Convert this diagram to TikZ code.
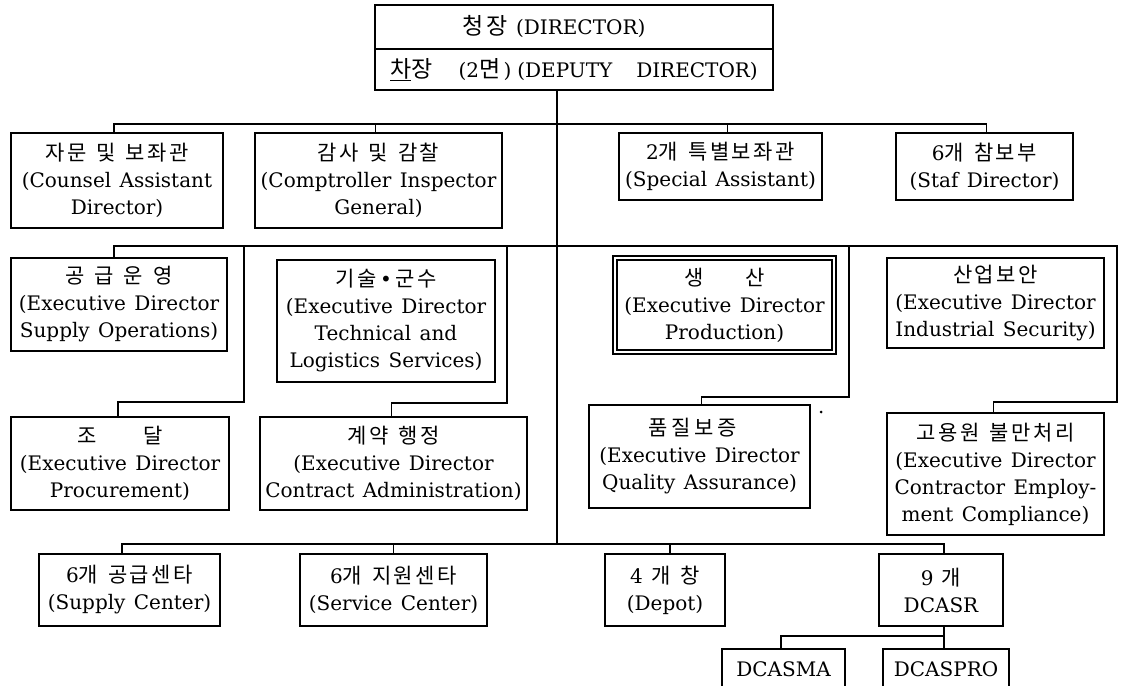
\documentclass[tikz,border=0pt]{standalone}
\usepackage{fontspec}
\setmainfont{DejaVu Serif}
\newfontfamily\kr[LetterSpace=12]{Noto Sans CJK KR}
\newcommand\K[1]{{\kr\fontsize{21}{27}\selectfont\spaceskip 10pt\relax #1}}
\newcommand\KL[1]{{\kr\fontsize{23}{27}\selectfont #1}}
\newcommand\bfnt{\fontsize{20}{27}\selectfont\spaceskip 8.4pt\relax}
\begin{document}
\begin{tikzpicture}[x=1pt,y=-1pt,line width=1.8pt,
  box/.style={draw,line width=1.8pt,inner sep=0pt,align=center,font=\bfnt},
  dbox/.style={box,double,double distance=2.6pt,line width=1.3pt}]
\useasboundingbox (0,0) rectangle (1123,685);
% top
\node[box,minimum width=398,minimum height=44] (dir) at (574,27) {\KL{청장} (DIRECTOR)\hspace*{40pt}};
\node[box,minimum width=398,minimum height=41] (dep) at (574,69.5) {\KL{\underline{차}장}\hspace{26pt}(2\KL{면}\,)\hspace{6pt}(DEPUTY\hspace{24pt}DIRECTOR)};
% row 1
\node[box,minimum width=212,minimum height=95] (counsel) at (117,180.5) {\K{자문 및 보좌관}\\(Counsel Assistant\\Director)};
\node[box,minimum width=247,minimum height=95] (comp) at (378.5,180.5) {\K{감사 및 감찰}\\(Comptroller Inspector\\General)};
\node[box,minimum width=203,minimum height=67] (special) at (720.5,166.5) {2\K{개 특별보좌관}\\(Special Assistant)};
\node[box,minimum width=177,minimum height=67] (staf) at (984.5,166.5) {6\K{개 참보부}\\(Staf Director)};
% row 2
\node[box,minimum width=216,minimum height=93] (supops) at (119,304.5) {\K{공 급 운 영}\\(Executive Director\\Supply Operations)};
\node[box,minimum width=218,minimum height=122] (tech) at (386,321) {\K{기술}\,•\,\K{군수}\\(Executive Director\\Technical and\\Logistics Services)};
\node[dbox,minimum width=219,minimum height=94] (prod) at (724.5,305) {\K{생\hspace{2em}산}\\(Executive Director\\Production)};
\node[box,minimum width=217,minimum height=90] (indsec) at (995.5,303) {\K{산업보안}\\(Executive Director\\Industrial Security)};
% row 3
\node[box,minimum width=218,minimum height=93] (proc) at (120,463.5) {\K{조\hspace{2.2em}달}\\(Executive Director\\Procurement)};
\node[box,minimum width=267,minimum height=93] (contr) at (393.5,463.5) {\K{계약 행정}\\(Executive Director\\Contract Administration)};
\node[box,minimum width=221,minimum height=103] (qa) at (699.5,456.5) {\K{품\,질\,보\,증}\hspace*{14pt}\\(Executive Director\\Quality Assurance)};
\node[box,minimum width=217,minimum height=122] (comply) at (995.5,474) {\K{고용원 불만처리}\\(Executive Director\\Contractor Employ-\\ment Compliance)};
\node[circle,fill,inner sep=0pt,minimum size=3pt] (dot) at (821,412) {};
% row 4
\node[box,minimum width=181,minimum height=72] (sc) at (129.5,590) {6\K{개 공급센타}\\(Supply Center)};
\node[box,minimum width=187,minimum height=72] (svc) at (393.5,590) {6\K{개 지원센타}\\(Service Center)};
\node[box,minimum width=120,minimum height=72] (depot) at (665,590) {4 \K{개 창}\\(Depot)};
\node[box,minimum width=124,minimum height=72] (dcasr) at (941,590) {9 \K{개}\\DCASR};
\node[box,anchor=north,minimum width=123,minimum height=40] (dcasma) at (783.5,648) {DCASMA};
\node[box,anchor=north,minimum width=126,minimum height=40] (dcaspro) at (946,648) {DCASPRO};
% buses
\coordinate (b1) at (557,124);
\coordinate (b2) at (557,246);
\coordinate (b4) at (557,544);
\coordinate (t1) at (244,402);
\coordinate (t2) at (507,403);
\coordinate (t3) at (849,397);
\coordinate (t4) at (1117,402);
\coordinate (b5) at (944,636);
% connectors
\draw (b4 |- dep.south) -- (b4);
\draw ([xshift=-3pt]counsel.north) |- (b1) -| ([xshift=2pt]staf.north);
\draw ([xshift=-3pt]comp.north) -- ([xshift=-3pt]comp.north |- b1);
\draw ([xshift=7pt]special.north) -- ([xshift=7pt]special.north |- b1);
\draw ([xshift=-5pt]supops.north) |- (b2) -| (t4) -| ([xshift=-2pt]comply.north);
\draw ([xshift=-2pt]proc.north) |- (t1) -- (t1 |- b2);
\draw ([xshift=-2pt]contr.north) |- (t2) -- (t2 |- b2);
\draw ([xshift=2pt]qa.north) |- (t3) -- (t3 |- b2);
\draw ([xshift=-7.5pt]sc.north) |- (b4) -| (b5 |- dcasr.north);
\draw (svc.north) -- (svc.north |- b4);
\draw ([xshift=5pt]depot.north) -- ([xshift=5pt]depot.north |- b4);
\draw (b5 |- dcasr.south) -- (b5);
\draw ([xshift=-2.5pt]dcasma.north) |- (b5) -| (b5 |- dcaspro.north);
\end{tikzpicture}
\end{document}
